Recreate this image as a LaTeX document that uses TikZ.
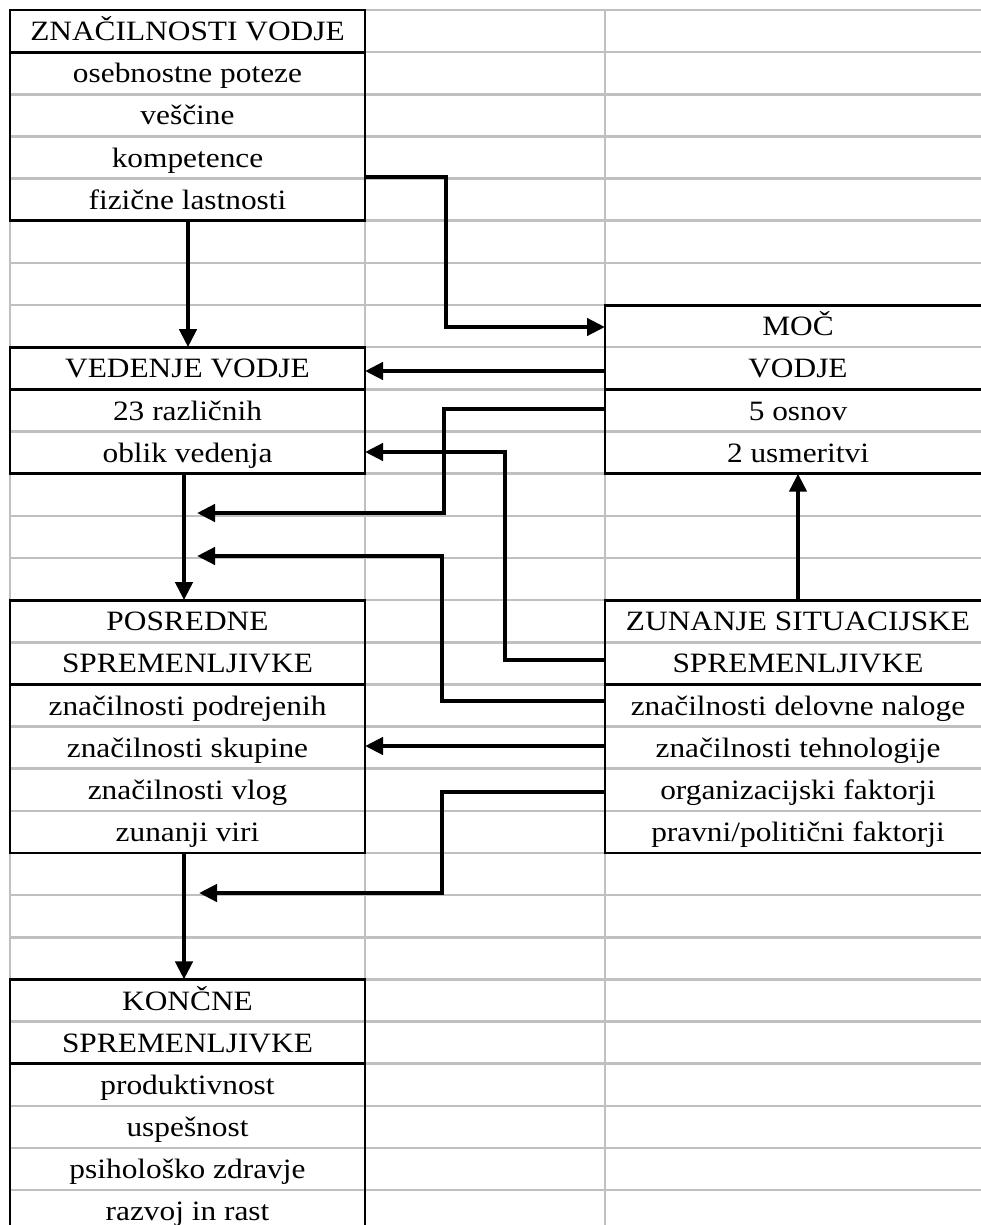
\documentclass[tikz,border=0pt]{standalone}
\usepackage{fontspec}
\setmainfont{Liberation Serif}[FakeStretch=1.12]
\usetikzlibrary{arrows.meta}
\definecolor{gridgray}{HTML}{C0C0C0}
\newcommand\rowtext[4]{\node[cell] (#1) at (#2,{10+42.15*(#3+1)-11.5}) {#4};}
\begin{document}
\begin{tikzpicture}[x=0.75pt,y=-0.75pt,
  gridline/.style={draw=gridgray,line width=1.9pt},
  box/.style={draw=black,line width=2.2pt,rectangle,inner sep=0pt,outer sep=0pt,anchor=north west},
  sepline/.style={draw=black,line width=2.2pt},
  cell/.style={anchor=base,inner sep=0pt,font=\fontsize{21pt}{21pt}\selectfont},
  link/.style={draw=black,line width=3.2pt},
  arr/.style={link,-{Triangle[length=13.5pt,width=12.75pt]}}]
\useasboundingbox (0,0) rectangle (981,1225);
\clip (0,0) rectangle (981,1225);
% spreadsheet grid
\foreach \k in {0,...,29} \draw[gridline] (10,{10+42.15*\k}) -- (985,{10+42.15*\k});
\foreach \xx in {10,365,605} \draw[gridline] (\xx,10) -- (\xx,1230);
% boxes
\node[box,minimum width=266.25pt,minimum height=158.06pt] (zv) at (10,10) {};
\node[box,minimum width=266.25pt,minimum height=94.84pt] (vv) at (10,347.2) {};
\node[box,minimum width=289.5pt,minimum height=126.45pt] (moc) at (605,305.05) {};
\node[box,minimum width=266.25pt,minimum height=189.68pt] (pos) at (10,600.1) {};
\node[box,minimum width=289.5pt,minimum height=189.68pt] (zun) at (605,600.1) {};
\node[box,minimum width=266.25pt,minimum height=189.68pt] (kon) at (10,979.45) {};
% header separators
\draw[sepline] (zv.west |- 0,52.15) -- (zv.east |- 0,52.15);
\draw[sepline] (vv.west |- 0,389.35) -- (vv.east |- 0,389.35);
\draw[sepline] (moc.west |- 0,389.35) -- (moc.east |- 0,389.35);
\draw[sepline] (pos.west |- 0,684.4) -- (pos.east |- 0,684.4);
\draw[sepline] (zun.west |- 0,684.4) -- (zun.east |- 0,684.4);
\draw[sepline] (kon.west |- 0,1063.75) -- (kon.east |- 0,1063.75);
% texts, column A
\rowtext{zv0}{187.5}{0}{ZNAČILNOSTI VODJE}
\rowtext{zv1}{187.5}{1}{osebnostne poteze}
\rowtext{zv2}{187.5}{2}{veščine}
\rowtext{zv3}{187.5}{3}{kompetence}
\rowtext{zv4}{187.5}{4}{fizične lastnosti}
\rowtext{vv0}{187.5}{8}{VEDENJE VODJE}
\rowtext{vv1}{187.5}{9}{23 različnih}
\rowtext{vv2}{187.5}{10}{oblik vedenja}
\rowtext{pos0}{187.5}{14}{POSREDNE}
\rowtext{pos1}{187.5}{15}{SPREMENLJIVKE}
\rowtext{pos2}{187.5}{16}{značilnosti podrejenih}
\rowtext{pos3}{187.5}{17}{značilnosti skupine}
\rowtext{pos4}{187.5}{18}{značilnosti vlog}
\rowtext{pos5}{187.5}{19}{zunanji viri}
\rowtext{kon0}{187.5}{23}{KONČNE}
\rowtext{kon1}{187.5}{24}{SPREMENLJIVKE}
\rowtext{kon2}{187.5}{25}{produktivnost}
\rowtext{kon3}{187.5}{26}{uspešnost}
\rowtext{kon4}{187.5}{27}{psihološko zdravje}
\rowtext{kon5}{187.5}{28}{razvoj in rast}
% texts, column C
\rowtext{moc0}{798}{7}{MOČ}
\rowtext{moc1}{798}{8}{VODJE}
\rowtext{moc2}{798}{9}{5 osnov}
\rowtext{moc3}{798}{10}{2 usmeritvi}
\rowtext{zun0}{798}{14}{ZUNANJE SITUACIJSKE}
\rowtext{zun1}{798}{15}{SPREMENLJIVKE}
\rowtext{zun2}{798}{16}{značilnosti delovne naloge}
\rowtext{zun3}{798}{17}{značilnosti tehnologije}
\rowtext{zun4}{798}{18}{organizacijski faktorji}
\rowtext{zun5}{798}{19}{pravni/politični faktorji}
% free arrow ends
\coordinate (e1) at (197,513);
\coordinate (e2) at (197,556);
\coordinate (e3) at (199,893);
% connectors
\draw[arr] (zv.south -| 188,0) -- (vv.north -| 188,0);
\draw[arr] (zv.east |- 0,177) -| (446,327) -- (moc.west |- 0,327);
\draw[arr] (moc.west |- 0,371) -- (vv.east |- 0,371);
\draw[arr] (moc.west |- 0,409) -| (444,513) -- (e1);
\draw[arr] (zun.west |- 0,660) -| (505,452) -- (vv.east |- 0,452);
\draw[arr] (zun.west |- 0,701) -| (442,556) -- (e2);
\draw[arr] (zun.west |- 0,746) -- (pos.east |- 0,746);
\draw[arr] (zun.west |- 0,792) -| (442,893) -- (e3);
\draw[arr] (zun.north) -- (moc.south);
\draw[arr] (vv.south -| 184,0) -- (pos.north -| 184,0);
\draw[arr] (pos.south -| 184,0) -- (kon.north -| 184,0);
\end{tikzpicture}
\end{document}
